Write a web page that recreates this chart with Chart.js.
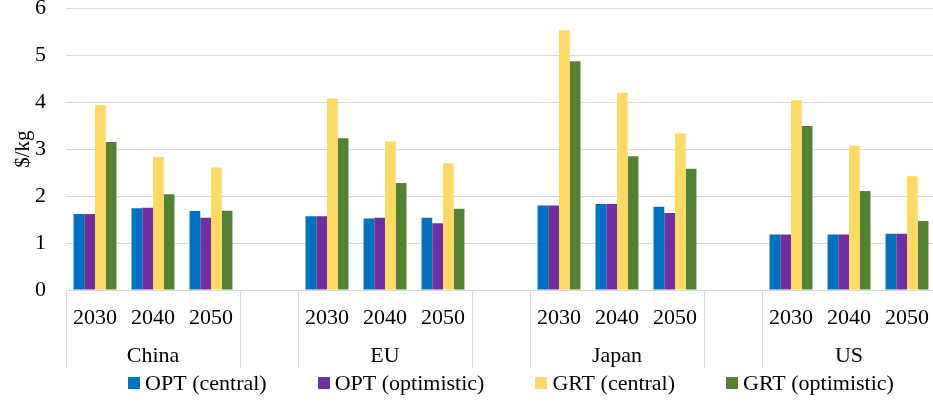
<!DOCTYPE html>
<html>
<head>
<meta charset="utf-8">
<script src="https://cdn.jsdelivr.net/npm/chart.js@4"></script>
<style>
  html, body { margin: 0; padding: 0; background: #fff; }
  #wrap { position: relative; width: 933px; height: 403px; overflow: hidden; }
  #box { position: absolute; left: 0; top: -25px; width: 944px; height: 428px; }
</style>
</head>
<body>
<div id="wrap"><div id="box"><canvas id="myChart"></canvas></div></div>
<script>
const years = ["2030", "2040", "2050", "", "2030", "2040", "2050", "", "2030", "2040", "2050", "", "2030", "2040", "2050"];
const regions = ["China", "EU", "Japan", "US"];

const optCentral = [1.62, 1.74, 1.68, null, 1.57, 1.52, 1.54, null, 1.80, 1.83, 1.77, null, 1.18, 1.18, 1.20];
const optOptimistic = [1.62, 1.75, 1.54, null, 1.57, 1.54, 1.42, null, 1.80, 1.83, 1.64, null, 1.18, 1.18, 1.20];
const grtCentral = [3.94, 2.83, 2.61, null, 4.08, 3.16, 2.70, null, 5.53, 4.20, 3.33, null, 4.04, 3.07, 2.42];
const grtOptimistic = [3.15, 2.04, 1.69, null, 3.23, 2.28, 1.73, null, 4.87, 2.85, 2.58, null, 3.49, 2.11, 1.47];

const yTicks = [0, 1, 2, 3, 4, 5, 6];

const FONT = "'Liberation Serif', 'Times New Roman', serif";
const GRID = "#d9d9d9";

// region labels + separators under the year ticks, and the legend row
const groupAxis = {
  id: "groupAxis",
  afterDraw(chart) {
    const ctx = chart.ctx;
    const x = chart.scales.x;
    const area = chart.chartArea;
    const half = (x.getPixelForValue(1) - x.getPixelForValue(0)) / 2;
    ctx.save();
    ctx.strokeStyle = GRID;
    ctx.lineWidth = 1;
    ctx.fillStyle = "#000";
    ctx.font = "22px " + FONT;
    ctx.textAlign = "center";
    ctx.textBaseline = "middle";
    regions.forEach((r, i) => {
      const first = i * 4;
      const last = first + 2;
      const l = Math.round(x.getPixelForValue(first) - half) + 0.5;
      const rr = Math.round(x.getPixelForValue(last) + half) + 0.5;
      [l, rr].forEach((px) => {
        ctx.beginPath();
        ctx.moveTo(px, area.bottom);
        ctx.lineTo(px, area.bottom + 78);
        ctx.stroke();
      });
      ctx.fillText(r, x.getPixelForValue(first + 1), area.bottom + 66);
    });

    // legend
    const items = chart.data.datasets;
    const box = 12, gapText = 5, gapItem = 51;
    const widths = items.map((d) => box + gapText + ctx.measureText(d.label).width);
    const total = widths.reduce((a, b) => a + b, 0) + gapItem * (items.length - 1);
    let cx = 511 - total / 2;
    const cy = area.bottom + 93;
    ctx.textAlign = "left";
    items.forEach((d, i) => {
      ctx.fillStyle = d.backgroundColor;
      ctx.fillRect(Math.round(cx), Math.round(cy - box / 2), box, box);
      ctx.fillStyle = "#000";
      ctx.fillText(d.label, cx + box + gapText, cy + 1);
      cx += widths[i] + gapItem;
    });
    ctx.restore();
  },
};

const ctx = document.getElementById("myChart");

new Chart(ctx, {
  type: "bar",
  data: {
    labels: years,
    datasets: [
      { label: "OPT (central)", data: optCentral, backgroundColor: "#0070C0" },
      { label: "OPT (optimistic)", data: optOptimistic, backgroundColor: "#7030A0" },
      { label: "GRT (central)", data: grtCentral, backgroundColor: "#FFD966" },
      { label: "GRT (optimistic)", data: grtOptimistic, backgroundColor: "#548235" },
    ],
  },
  options: {
    responsive: true,
    maintainAspectRatio: false,
    animation: false,
    layout: { padding: { left: 0, right: 0, top: 0, bottom: 35 } },
    datasets: {
      bar: { categoryPercentage: 0.74, barPercentage: 1.0, borderWidth: 0, skipNull: false },
    },
    plugins: {
      legend: { display: false },
      tooltip: { enabled: false },
    },
    scales: {
      x: {
        grid: { display: false, drawTicks: false },
        border: { display: true, color: GRID, width: 1 },
        ticks: {
          color: "#000",
          font: { family: FONT, size: 22 },
          padding: 15,
          maxRotation: 0,
          autoSkip: false,
        },
        afterFit: (scale) => { scale.height = 78; },
      },
      y: {
        min: 0,
        max: 6,
        afterBuildTicks: (scale) => { scale.ticks = yTicks.map((v) => ({ value: v })); },
        grid: { color: GRID, lineWidth: 1, drawTicks: false },
        border: { display: false },
        ticks: {
          color: "#000",
          font: { family: FONT, size: 22 },
          padding: 20,
        },
        title: {
          display: true,
          text: "$/kg",
          color: "#000",
          font: { family: FONT, size: 21 },
          padding: { top: 11, bottom: 0 },
        },
        afterFit: (scale) => { scale.width = 66; },
      },
    },
  },
  plugins: [groupAxis],
});
</script>
</body>
</html>
